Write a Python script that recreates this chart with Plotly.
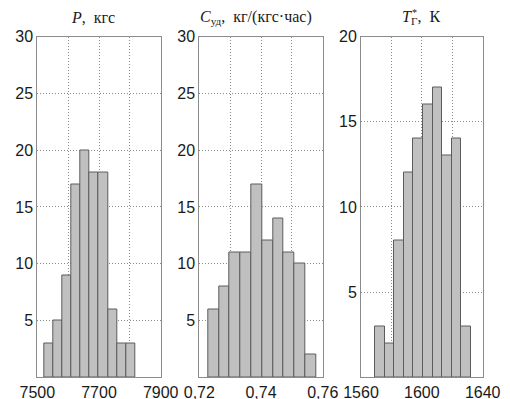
import plotly.graph_objects as go

# ---- data ----
p_counts = [3, 5, 9, 17, 20, 18, 18, 6, 3, 3]
p_bin_start = 7522.7
p_bin_width = 29.41

c_counts = [6, 8, 11, 11, 17, 12, 14, 11, 10, 2]
c_bin_start = 0.72285
c_bin_width = 0.0035

t_counts = [3, 2, 8, 12, 14, 16, 17, 13, 14, 3]
t_bin_start = 1569.5
t_bin_width = 6.25

p_ticks = [7500, 7600, 7700, 7800, 7900]
p_ticktext = ["7500", "", "7700", "", "7900"]
c_ticks = [0.72, 0.73, 0.74, 0.75, 0.76]
c_ticktext = ["0,72", "", "0,74", "", "0,76"]
t_ticks = [1560, 1580, 1600, 1620, 1640]
t_ticktext = ["1560", "", "1600", "", "1640"]

y30_ticks = [5, 10, 15, 20, 25, 30]
y20_ticks = [5, 10, 15, 20]

titles = [
    "<i>P</i>,  кгс",
    "<i>C</i><sub>уд</sub>,  кг/(кгс·час)",
    "<i>T</i><sub>Г</sub>,  К",
]

# ---- figure ----
BAR_FILL = "#c0c0c0"
BAR_EDGE = "#5c5c5c"
FRAME = "#8c8c8c"
GRID = "#8a8a8a"
TICKFONT = dict(family="Liberation Sans, Arial, sans-serif", size=16, color="#1a1a1a")
TITLEFONT = dict(family="Liberation Serif, Times New Roman, serif", size=16, color="#1a1a1a")

OFF = 8  # page body margin
W, H = 510 - OFF, 399 - OFF
# page-pixel positions, converted to figure pixels by subtracting OFF
xdoms = [(37.3, 160.7), (199.3, 322.7), (361.0, 482.7)]
ytop, ybot = 36.5, 377.3


def fx(px):
    return (px - OFF) / W


def fy(py):
    return (H - (py - OFF)) / H


fig = go.Figure()

panels = [
    (p_counts, p_bin_start, p_bin_width, [7500, 7900], p_ticks, p_ticktext, [0, 30], y30_ticks),
    (c_counts, c_bin_start, c_bin_width, [0.72, 0.76], c_ticks, c_ticktext, [0, 30], y30_ticks),
    (t_counts, t_bin_start, t_bin_width, [1560, 1640], t_ticks, t_ticktext, [0, 20], y20_ticks),
]

layout = dict(
    template="none",
    width=W, height=H,
    margin=dict(l=0, r=0, t=0, b=0, pad=0, autoexpand=False),
    paper_bgcolor="white", plot_bgcolor="white",
    showlegend=False, bargap=0,
)

annotations = []
for i, (counts, start, width, xr, xt, xtt, yr, yt) in enumerate(panels):
    n = i + 1
    xa = "x" if n == 1 else f"x{n}"
    ya = "y" if n == 1 else f"y{n}"
    centers = [start + width * (k + 0.5) for k in range(len(counts))]
    fig.add_trace(go.Bar(
        x=centers, y=counts, width=[width] * len(counts),
        marker=dict(color=BAR_FILL, line=dict(color=BAR_EDGE, width=1)),
        xaxis=xa, yaxis=ya, hoverinfo="x+y",
    ))
    x0, x1 = xdoms[i]
    layout[f"xaxis{'' if n == 1 else n}"] = dict(
        domain=[fx(x0), fx(x1)], range=xr, anchor=ya, automargin=False,
        tickmode="array", tickvals=xt, ticktext=xtt, tickfont=TICKFONT,
        showgrid=True, gridcolor=GRID, griddash="1px,2px", gridwidth=1,
        showline=True, mirror=True, linecolor=FRAME, linewidth=1,
        ticks="", ticklen=0, zeroline=False, fixedrange=True,
    )
    layout[f"yaxis{'' if n == 1 else n}"] = dict(
        domain=[fy(ybot), fy(ytop)], range=yr, anchor=xa, automargin=False,
        tickmode="array", tickvals=yt, tickfont=TICKFONT,
        showgrid=True, gridcolor=GRID, griddash="1px,2px", gridwidth=1,
        showline=True, mirror=True, linecolor=FRAME, linewidth=1,
        ticks="", ticklen=0, zeroline=False, fixedrange=True,
    )

title_x = [93, 256, 421]
for i, t in enumerate(titles):
    annotations.append(dict(
        text=t, x=fx(title_x[i]), y=fy(18), xref="paper", yref="paper",
        xanchor="center", yanchor="middle", showarrow=False, font=TITLEFONT,
    ))
# star over the subscript of T
annotations.append(dict(
    text="*", x=fx(414), y=fy(13), xref="paper", yref="paper",
    xanchor="center", yanchor="middle", showarrow=False,
    font=dict(family="Liberation Serif, serif", size=10, color="#1a1a1a"),
))
layout["annotations"] = annotations
fig.update_layout(**layout)

fig.write_html("out.html")
